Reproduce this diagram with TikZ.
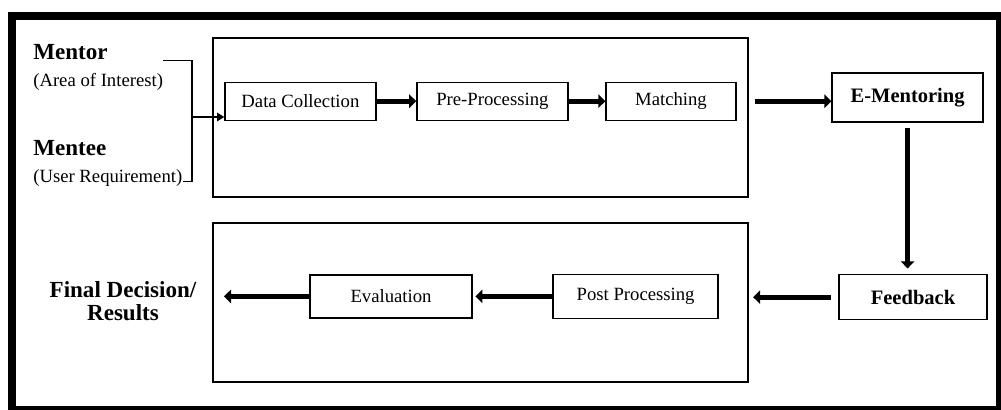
\documentclass[tikz,border=0pt]{standalone}
\usepackage{fontspec}
\setmainfont{Liberation Serif}
\usetikzlibrary{arrows.meta,positioning}
\newcommand\headtxt[1]{{\fontsize{16.4}{19.6}\selectfont\bfseries #1}}
\begin{document}
\begin{tikzpicture}[>={Triangle[length=5pt,width=6pt]},
  every node/.style={font=\fontsize{13.3}{19.6}\selectfont},
  box/.style={draw, line width=0.9pt, minimum height=0.95cm, inner sep=0pt},
  boldbox/.style={box, font=\fontsize{14.6}{17}\selectfont\bfseries},
  stage/.style={draw, line width=1.3pt, minimum width=13.375cm, minimum height=3.975cm},
  fat/.style={line width=3.4pt, -{Triangle[length=5pt,width=9.5pt]}}]
  \useasboundingbox (0,0) rectangle (25.025,10.25);
  \draw[line width=0.2cm] (0.3,0) rectangle (25,9.85);
  % the two stages
  \node[stage] (upper) at (12.0125,7.3125) {};
  \node[stage] (lower) at (12.0125,2.6875) {};
  % upper row
  \node[box, minimum width=3.775cm] (collect) at (7.51,7.72) {Data Collection};
  \node[box, minimum width=3.775cm] (prep) at (12.31,7.72) {Pre-Processing};
  \node[box, minimum width=3.25cm] (match) at (16.775,7.72) {Matching};
  \node[boldbox, minimum width=3.775cm, minimum height=1.225cm] (ementor) at (22.69,7.81) {E-Mentoring};
  % lower row
  \node[boldbox, minimum width=3.7cm, minimum height=1.125cm] (feedback) at (22.825,2.82) {Feedback};
  \node[box, minimum width=4.125cm, minimum height=1.1cm] (post) at (15.89,2.84) {Post Processing};
  \node[box, minimum width=4.05cm, minimum height=1.075cm] (eval) at (9.775,2.84) {Evaluation};
  % inputs and result
  \node[anchor=north west, inner sep=0pt, align=left] (mentor) at (0.825,9.15) {\headtxt{Mentor}\\(Area of Interest)};
  \node[anchor=north west, inner sep=0pt, align=left] (mentee) at (0.825,6.75) {\headtxt{Mentee}\\(User Requirement)};
  \node[align=center, inner sep=0pt, font=\fontsize{16.4}{16.4}\selectfont\bfseries] (final) at (3.075,2.72) {Final Decision/\\Results};
  \coordinate (join) at (4.8,7.325);
  \coordinate (out) at (5.6,2.84);
  \draw[line width=0.8pt] ([yshift=5pt]mentor.east) -| (join) |- ([yshift=4pt]mentee.south east);
  \draw[->, line width=0.8pt] (join) -- (join -| collect.west);
  \draw[fat] (collect.east) -- (prep.west);
  \draw[fat] (prep.east) -- (match.west);
  \draw[fat, shorten <=4pt] (match -| upper.east) -- (match -| ementor.west);
  \draw[fat, shorten <=4pt, shorten >=4pt] (ementor.south) -- (ementor.south |- feedback.north);
  \draw[fat, shorten <=5pt, shorten >=3pt] (feedback.west) -- (feedback.west -| lower.east);
  \draw[fat, shorten >=2pt] (post.west) -- (post.west -| eval.east);
  \draw[fat] (eval.west) -- (out);
\end{tikzpicture}
\end{document}
